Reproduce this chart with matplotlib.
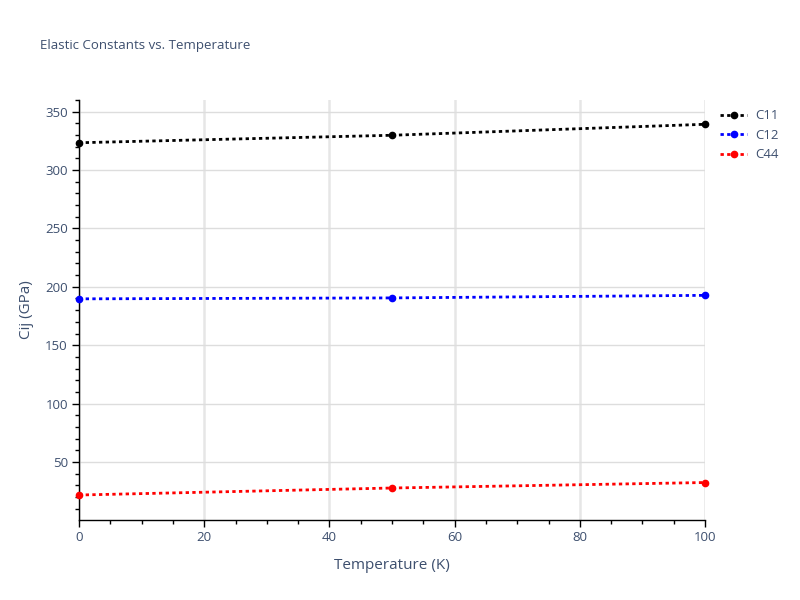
import matplotlib.pyplot as plt
from matplotlib.ticker import MultipleLocator
from matplotlib.lines import Line2D

plt.rcParams['font.family'] = ['Open Sans', 'DejaVu Sans']

# Data
temperature = [0, 50, 100]  # K
c11 = [323.4, 329.8, 339.2]
c12 = [189.7, 190.5, 192.7]
c44 = [21.7, 27.7, 32.4]

series = [("C11", c11, "black"), ("C12", c12, "blue"), ("C44", c44, "red")]
text_color = "#3d4f6e"

fig = plt.figure(figsize=(8, 6), dpi=100)
ax = fig.add_axes([79 / 800, 80 / 600, 626 / 800, 420 / 600])

for name, vals, color in series:
    ax.plot(temperature, vals, linestyle=(0, (1.2, 1.2)), linewidth=2, color=color,
            marker="o", markersize=4.5, label=name, clip_on=False, zorder=3)

ax.set_xlim(0, 100)
ax.set_ylim(0.3, 360)
ax.xaxis.set_major_locator(MultipleLocator(20))
ax.xaxis.set_minor_locator(MultipleLocator(5))
ax.yaxis.set_major_locator(MultipleLocator(50))
ax.yaxis.set_minor_locator(MultipleLocator(10))
ax.set_yticks([50, 100, 150, 200, 250, 300, 350])

ax.yaxis.grid(True, which="major", color="#dddddd", linewidth=1)
ax.xaxis.grid(True, which="major", color="#e6e6e6", linewidth=1.8)
ax.set_axisbelow(True)
for s in ("top", "right"):
    ax.spines[s].set_visible(False)
for s in ("left", "bottom"):
    ax.spines[s].set_color("black")
    ax.spines[s].set_linewidth(1)

ax.tick_params(which="major", direction="out", length=5, width=1, color="black",
               labelsize=9.5, labelcolor=text_color, pad=3)
ax.tick_params(which="minor", direction="out", length=3, width=1, color="black")

ax.set_xlabel("Temperature (K)", fontsize=11, color=text_color, labelpad=10)
ax.set_ylabel("Cij (GPa)", fontsize=11, color=text_color, labelpad=8)

fig.text(40 / 800, 1 - 46 / 600, "Elastic Constants vs. Temperature", fontsize=9.5,
         color=text_color, va="center", ha="left")

handles = [Line2D([0], [0], linestyle=(0, (1.2, 1.2)), linewidth=2, color=c,
                  marker="o", markersize=4.5) for _, _, c in series]
ax.legend(handles, [s[0] for s in series], loc="upper left", bbox_to_anchor=(1.01, 1.0),
          frameon=False, fontsize=9.5, labelcolor=text_color, handlelength=2.0,
          handletextpad=0.6, labelspacing=0.5, borderaxespad=0.3)

fig.savefig("out.png", dpi=100)
